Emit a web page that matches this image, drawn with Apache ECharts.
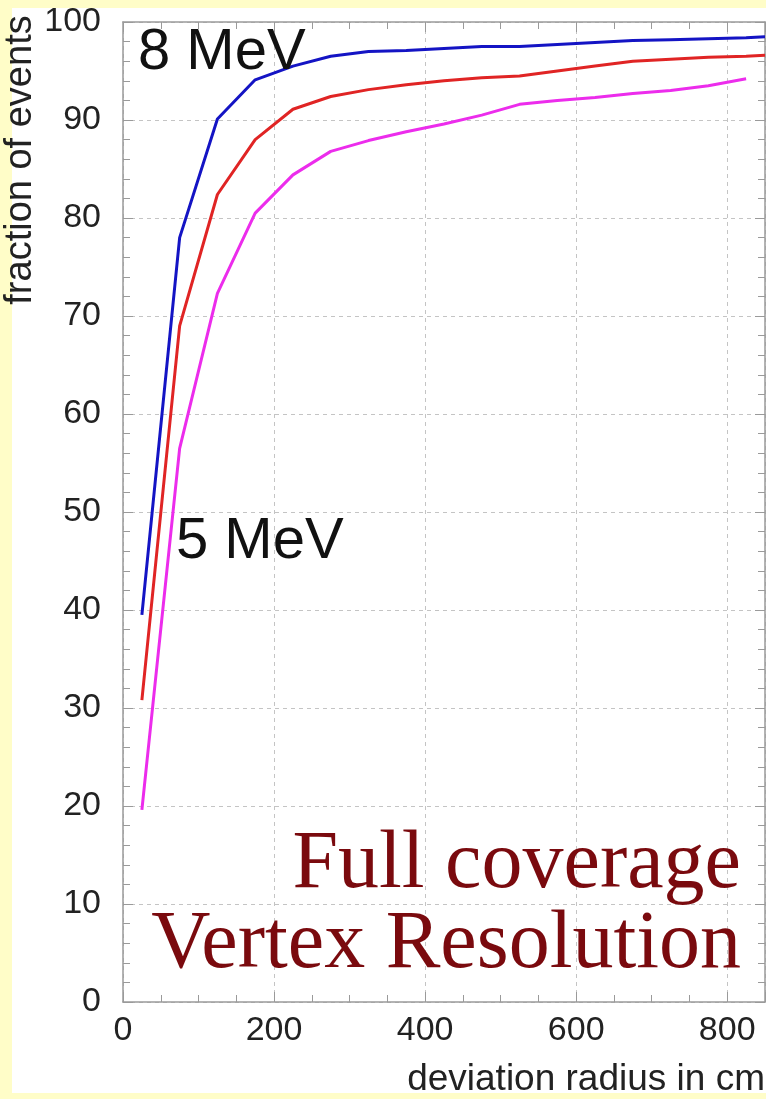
<!DOCTYPE html>
<html>
<head>
<meta charset="utf-8">
<title>Vertex Resolution</title>
<script src="https://cdn.jsdelivr.net/npm/echarts@6/dist/echarts.min.js"></script>
<style>
  html, body { margin: 0; padding: 0; background: #fffdc8; }
  #chart { width: 766px; height: 1099px; }
</style>
</head>
<body>
<div id="chart"></div>
<script>
// Deviation radius (cm) sampled every 50 cm
const radius = [25, 75, 125, 175, 225, 275, 325, 375, 425, 475, 525, 575, 625, 675, 725, 775, 825, 850];

// Fraction of events (%) contained within the radius
const frac8MeV = [39.5, 78.0, 90.1, 94.1, 95.5, 96.5, 97.0, 97.1, 97.3, 97.5, 97.5, 97.7, 97.9, 98.1, 98.2, 98.3, 98.4, 98.5];
const fracMid  = [30.8, 69.0, 82.4, 88.0, 91.1, 92.4, 93.1, 93.6, 94.0, 94.3, 94.5, 95.0, 95.5, 96.0, 96.2, 96.4, 96.5, 96.6];
const frac5MeV = [19.6, 56.5, 72.3, 80.5, 84.4, 86.8, 87.9, 88.8, 89.6, 90.5, 91.6, 92.0, 92.3, 92.7, 93.0, 93.5, 94.2];

const xTicks = [0, 200, 400, 600, 800];
const yTicks = [0, 10, 20, 30, 40, 50, 60, 70, 80, 90, 100];

const pairs = (xs, ys) => ys.map((y, i) => [xs[i], y]);

const axisGrey = '#9a9a9a';
const gridStyle = { color: '#c4c4c4', type: [4, 4], width: 1 };
const labelFont = { fontFamily: 'Liberation Sans, Arial, sans-serif', fontSize: 34, color: '#222' };

const chart = echarts.init(document.getElementById('chart'), null, { renderer: 'canvas' });

const xBase = {
  type: 'value', min: 0, max: 850, interval: 200,
  axisLine: { show: true, onZero: false, lineStyle: { color: axisGrey, width: 1.5 } },
  axisTick: { show: true, inside: true, length: 10, lineStyle: { color: axisGrey } },
  minorTick: { show: true, splitNumber: 4, length: 7, lineStyle: { color: axisGrey } },
};
const yBase = {
  type: 'value', min: 0, max: 100, interval: 10,
  axisLine: { show: true, onZero: false, lineStyle: { color: axisGrey, width: 1.5 } },
  axisTick: { show: true, inside: true, length: 10, lineStyle: { color: axisGrey } },
  minorTick: { show: true, splitNumber: 5, length: 7, lineStyle: { color: axisGrey } },
};

chart.setOption({
  backgroundColor: '#fffdc8',
  animation: false,
  grid: { left: 123, top: 22, right: 1, bottom: 97, containLabel: false },
  xAxis: [
    Object.assign({}, xBase, {
      position: 'bottom',
      axisLabel: Object.assign({ margin: 12, showMaxLabel: false,
        formatter: v => (xTicks.includes(v) ? String(v) : '') }, labelFont),
      splitLine: { show: true, lineStyle: gridStyle },
    }),
    Object.assign({}, xBase, {
      position: 'top',
      axisLabel: { show: false },
      splitLine: { show: false },
    }),
  ],
  yAxis: [
    Object.assign({}, yBase, {
      position: 'left',
      axisLabel: Object.assign({ margin: 22,
        formatter: v => (yTicks.includes(v) ? String(v) : '') }, labelFont),
      splitLine: { show: true, lineStyle: gridStyle },
    }),
    Object.assign({}, yBase, {
      position: 'right',
      axisLabel: { show: false },
      splitLine: { show: false },
    }),
  ],
  series: [
    { name: '8 MeV', type: 'line', data: pairs(radius, frac8MeV), symbol: 'none', clip: true,
      lineStyle: { color: '#1414c4', width: 3 }, z: 4 },
    { name: 'intermediate', type: 'line', data: pairs(radius, fracMid), symbol: 'none', clip: true,
      lineStyle: { color: '#e02424', width: 3 }, z: 3 },
    { name: '5 MeV', type: 'line', data: pairs(radius, frac5MeV), symbol: 'none', clip: true,
      lineStyle: { color: '#ec2cec', width: 3 }, z: 2 },
  ],
  graphic: [
    // white page area inside the pale border
    { type: 'rect', z: -10, silent: true,
      shape: { x: 12, y: 8, width: 754, height: 1085 },
      style: { fill: '#ffffff' } },
    { type: 'text', x: 21, y: 160, rotation: Math.PI / 2,
      style: { text: 'fraction of events', align: 'center', verticalAlign: 'middle',
        font: '38px "Liberation Sans", Arial, sans-serif', fill: '#222' } },
    { type: 'text', x: 765, y: 1080,
      style: { text: 'deviation radius in cm', align: 'right', verticalAlign: 'middle',
        font: '37px "Liberation Sans", Arial, sans-serif', fill: '#222' } },
    { type: 'text', x: 138, y: 53, z: 10,
      style: { text: '8 MeV', align: 'left', verticalAlign: 'middle',
        font: '58px "Liberation Sans", Arial, sans-serif', fill: '#111' } },
    { type: 'text', x: 176, y: 542, z: 10,
      style: { text: '5 MeV', align: 'left', verticalAlign: 'middle',
        font: '58px "Liberation Sans", Arial, sans-serif', fill: '#111' } },
    { type: 'text', x: 741, y: 865, z: 10,
      style: { text: 'Full coverage', align: 'right', verticalAlign: 'middle',
        font: '82px "Liberation Serif", "Times New Roman", serif', fill: '#7a0a0e' } },
    { type: 'text', x: 741, y: 945, z: 10,
      style: { text: 'Vertex Resolution', align: 'right', verticalAlign: 'middle',
        font: '82px "Liberation Serif", "Times New Roman", serif', fill: '#7a0a0e' } },
  ],
});
</script>
</body>
</html>
